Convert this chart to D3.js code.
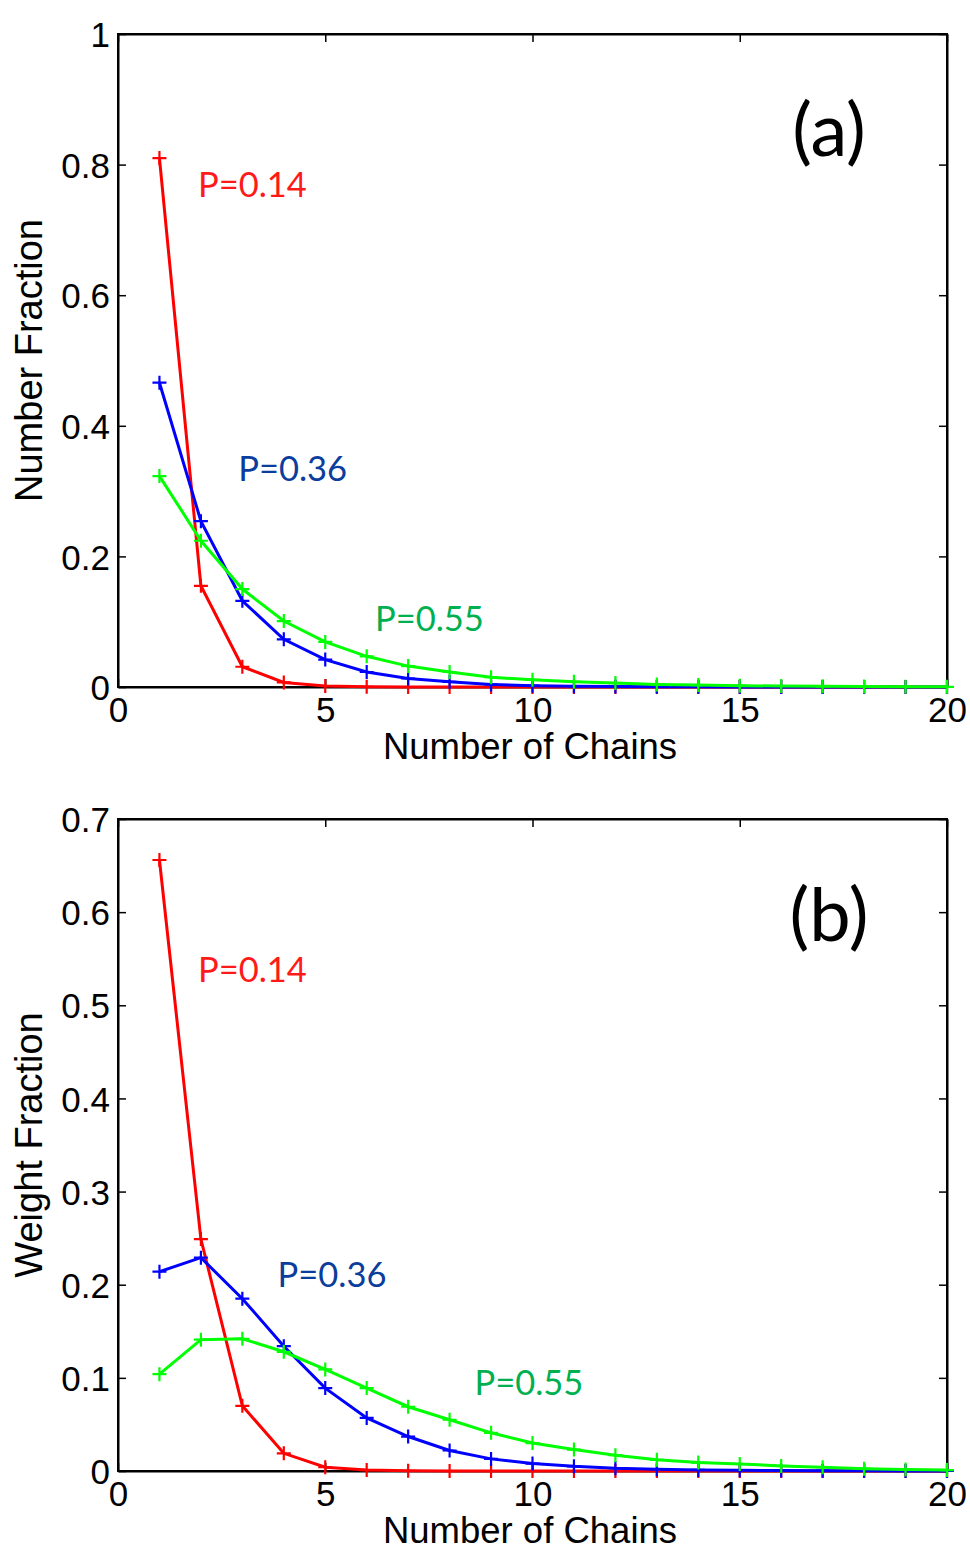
<!DOCTYPE html>
<html><head><meta charset="utf-8">
<script src="https://cdn.jsdelivr.net/npm/d3@7"></script>
<style>body{margin:0;background:#fff}svg{display:block}</style>
</head><body>
<script>
const chains = d3.range(1, 21);
// Panel (a): number fraction
const numP014 = [0.81,0.155,0.031,0.007,0.0015,0.0003,0,0,0,0,0,0,0,0,0,0,0,0,0,0];
const numP036 = [0.466,0.254,0.132,0.073,0.042,0.023,0.013,0.008,0.004,0.002,0.001,0.0006,0.0003,0.0002,0.0001,0,0,0,0,0];
const numP055 = [0.323,0.224,0.150,0.101,0.069,0.047,0.032,0.023,0.015,0.011,0.008,0.006,0.004,0.003,0.002,0.0015,0.001,0.0007,0.0005,0.0003];
// Panel (b): weight fraction
const wtP014 = [0.656,0.249,0.070,0.019,0.004,0.001,0.0002,0,0,0,0,0,0,0,0,0,0,0,0,0];
const wtP036 = [0.214,0.229,0.185,0.134,0.089,0.057,0.037,0.022,0.013,0.008,0.005,0.003,0.002,0.0012,0.0008,0.0005,0.0003,0.0002,0.0001,0.0001];
const wtP055 = [0.104,0.141,0.142,0.128,0.109,0.089,0.069,0.055,0.041,0.030,0.023,0.017,0.012,0.009,0.0075,0.0055,0.004,0.0025,0.0015,0.001];
const seriesNames = ["P=0.14","P=0.36","P=0.55"];
const xTicks = [0,5,10,15,20];
const yTicksA = [0,0.2,0.4,0.6,0.8,1];
const yTicksB = [0,0.1,0.2,0.3,0.4,0.5,0.6,0.7];
const yTickLabelsA = ["0","0.2","0.4","0.6","0.8","1"];
const yTickLabelsB = ["0","0.1","0.2","0.3","0.4","0.5","0.6","0.7"];
// annotation anchor points (data units)
const annotA = [[1.93,0.75],[2.9,0.315],[6.2,0.086]];
const annotB = [[1.93,0.525],[3.85,0.198],[8.6,0.082]];

const lineColors = ["#ff0000","#0000ff","#00ff00"];
const textColors = ["#ff1a1a","#0b3d9c","#00b050"];

const W = 970, H = 1553;
const svg = d3.select("body").append("svg").attr("width", W).attr("height", H);

function panel(cfg){
  const x = d3.scaleLinear().domain([0,20]).range([118,947]);
  const y = d3.scaleLinear().domain([0,cfg.ymax]).range([cfg.y0, cfg.y1]);
  const g = svg.append("g");
  const tf = "Liberation Sans, Arial, sans-serif";
  // frame
  g.append("rect").attr("x",118).attr("y",cfg.y1).attr("width",947-118).attr("height",cfg.y0-cfg.y1)
    .attr("fill","none").attr("stroke","#000").attr("stroke-width",2);
  // axes with inward ticks
  const left = d3.axisLeft(y).tickValues(cfg.yTicks).tickSizeInner(-8).tickSizeOuter(0)
    .tickFormat((d,i)=>cfg.yLabels[i]).tickPadding(8);
  const gl = g.append("g").attr("transform","translate(118,0)").call(left);
  const right = d3.axisRight(y).tickValues(cfg.yTicks).tickSizeInner(-8).tickSizeOuter(0).tickFormat("");
  const gr = g.append("g").attr("transform","translate(947,0)").call(right);
  const bottom = d3.axisBottom(x).tickValues(xTicks).tickSizeInner(-8).tickSizeOuter(0).tickPadding(10);
  const gb = g.append("g").attr("transform",`translate(0,${cfg.y0})`).call(bottom);
  const top = d3.axisTop(x).tickValues(xTicks).tickSizeInner(-8).tickSizeOuter(0).tickFormat("");
  const gt = g.append("g").attr("transform",`translate(0,${cfg.y1})`).call(top);
  [gl,gr,gb,gt].forEach(a=>{
    a.select(".domain").attr("stroke","#000").attr("stroke-width",2);
    a.selectAll(".tick line").attr("stroke","#000").attr("stroke-width",1.5);
    a.selectAll("text").attr("font-family",tf).attr("font-size",35).attr("fill","#000");
  });
  gl.selectAll("text").attr("dy","0.36em");
  gb.selectAll("text").attr("dy","0.72em");
  // labels
  g.append("text").attr("x",530).attr("y",cfg.y0+72).attr("text-anchor","middle")
    .attr("font-family",tf).attr("font-size",36.5).text("Number of Chains");
  g.append("text").attr("transform",`translate(42,${(cfg.y0+cfg.y1)/2}) rotate(-90)`).attr("text-anchor","middle")
    .attr("font-family",tf).attr("font-size",38).text(cfg.ylabel);
  // series
  const line = d3.line().x((d,i)=>x(chains[i])).y(d=>y(d));
  cfg.series.forEach((s,k)=>{
    g.append("path").datum(s).attr("d",line).attr("fill","none")
      .attr("stroke",lineColors[k]).attr("stroke-width",3);
    const m = g.append("g");
    s.forEach((v,i)=>{
      const cx = x(chains[i]), cy = y(v);
      m.append("path").attr("d",`M${cx-7},${cy}H${cx+7}M${cx},${cy-7}V${cy+7}`)
        .attr("stroke",lineColors[k]).attr("stroke-width",2.2);
    });
  });
  // annotations
  cfg.annot.forEach((a,k)=>{
    g.append("text").attr("x",x(a[0])).attr("y",y(a[1])).attr("font-family","Lato, Open Sans, sans-serif")
      .attr("font-size",34.5).attr("fill",textColors[k]).text(seriesNames[k]);
  });
  g.append("text").attr("x",829).attr("y",cfg.y1+122).attr("text-anchor","middle")
    .attr("font-family","Lato, Open Sans, sans-serif").attr("font-size",74).text(cfg.tag);
}

panel({ymax:1, y0:687, y1:34, yTicks:yTicksA, yLabels:yTickLabelsA, ylabel:"Number Fraction",
  series:[numP014,numP036,numP055], annot:annotA, tag:"(a)"});
panel({ymax:0.7, y0:1471, y1:819, yTicks:yTicksB, yLabels:yTickLabelsB, ylabel:"Weight Fraction",
  series:[wtP014,wtP036,wtP055], annot:annotB, tag:"(b)"});
</script>
</body></html>
